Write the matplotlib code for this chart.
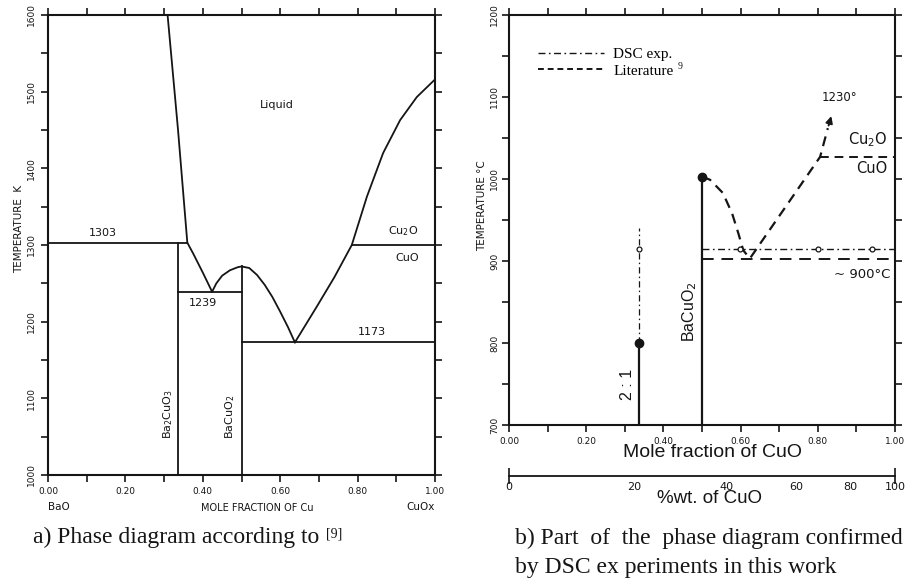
import numpy as np
import matplotlib
matplotlib.use('Agg')
import matplotlib.pyplot as plt
from matplotlib.ticker import MultipleLocator, FixedLocator, FixedFormatter
from matplotlib.lines import Line2D

plt.rcParams['font.family'] = ['DejaVu Sans']
plt.rcParams['mathtext.fontset'] = 'dejavusans'

# ---------------- Panel a data (T in K vs mole fraction of Cu) ----------------
a_xticks = [0.0, 0.2, 0.4, 0.6, 0.8, 1.0]
a_xticklabels = ['0.00', '0.20', '0.40', '0.60', '0.80', '1.00']
a_yticks = [1000, 1100, 1200, 1300, 1400, 1500, 1600]
a_yticklabels = ['1000', '1100', '1200', '1300', '1400', '1500', '1600']

liq_left_x = [0.309, 0.336, 0.360]
liq_left_T = [1600, 1450, 1303]
branch_x = [0.360, 0.375, 0.401, 0.424]
branch_T = [1303, 1289, 1263, 1239]
dome_x = [0.424, 0.435, 0.45, 0.47, 0.49, 0.50, 0.52, 0.54, 0.56, 0.58, 0.60, 0.62, 0.638]
dome_T = [1239, 1250, 1260, 1267, 1271, 1272, 1270, 1261, 1248, 1232, 1213, 1193, 1173]
liq_right_x = [0.638, 0.695, 0.74, 0.785, 0.824, 0.866, 0.91, 0.953, 1.0]
liq_right_T = [1173, 1220, 1258, 1300, 1363, 1420, 1463, 1493, 1516]

iso_1303_x = [0.0, 0.360]
iso_1303_T = [1303, 1303]
iso_1239_x = [0.336, 0.5]
iso_1239_T = [1239, 1239]
iso_1173_x = [0.5, 1.0]
iso_1173_T = [1173, 1173]
iso_cu2o_x = [0.785, 1.0]
iso_cu2o_T = [1300, 1300]
ba2cuo3_x = [0.336, 0.336]
ba2cuo3_T = [1000, 1303]
bacuo2_a_x = [0.5, 0.5]
bacuo2_a_T = [1000, 1272]

# ---------------- Panel b data (T in degC vs mole fraction of CuO) ----------------
b_xticks = [0.0, 0.2, 0.4, 0.6, 0.8, 1.0]
b_xticklabels = ['0.00', '0.20', '0.40', '0.60', '0.80', '1.00']
b_yticks = [700, 800, 900, 1000, 1100, 1200]
b_yticklabels = ['700', '800', '900', '1000', '1100', '1200']
wt_ticks = [0, 20, 40, 60, 80, 100]
wt_ticklabels = ['0', '20', '40', '60', '80', '100']
M_CuO = 79.55
M_BaO = 153.33

lit_x = [0.5, 0.521, 0.554, 0.578, 0.594, 0.607, 0.624, 0.806, 0.826]
lit_T = [1003, 999, 983, 958, 934, 913, 903, 1027, 1062]
arrow_tip_x = 0.837
arrow_tip_T = 1080
lit_cu2o_x = [0.806, 1.0]
lit_cu2o_T = [1027, 1027]
lit_eut_x = [0.5, 1.0]
lit_eut_T = [902, 902]
dsc_x = [0.5, 1.0]
dsc_T = [915, 915]
dsc_pts_x = [0.598, 0.80, 0.94, 0.338]
dsc_pts_T = [915, 915, 915, 915]
r21_solid_x = [0.338, 0.338]
r21_solid_T = [700, 800]
r21_dash_x = [0.338, 0.338]
r21_dash_T = [800, 940]
r21_dot_x = [0.338]
r21_dot_T = [800]
bacuo2_b_x = [0.5, 0.5]
bacuo2_b_T = [700, 1003]
bacuo2_dot_x = [0.5]
bacuo2_dot_T = [1003]

INK = '#151515'

fig = plt.figure(figsize=(9.13, 5.81), dpi=100)
fig.patch.set_facecolor('white')

W, H = 913.0, 581.0
ax1 = fig.add_axes([48 / W, (H - 475) / H, (435 - 48) / W, (475 - 15) / H])
ax2 = fig.add_axes([509 / W, (H - 425) / H, (895 - 509) / W, (425 - 15) / H])


def style_axes(ax):
    for s in ax.spines.values():
        s.set_linewidth(1.5)
        s.set_color(INK)
    ax.tick_params(which='both', direction='out', length=5, width=1.2,
                   top=True, right=True, labeltop=False, labelright=False,
                   colors=INK, labelsize=6.5)


# ---------------- Panel a ----------------
lw = 1.3
ax1.plot(liq_left_x, liq_left_T, color=INK, lw=lw)
ax1.plot(branch_x, branch_T, color=INK, lw=lw)
ax1.plot(dome_x, dome_T, color=INK, lw=lw)
ax1.plot(liq_right_x, liq_right_T, color=INK, lw=lw)
for xs, ts in [(iso_1303_x, iso_1303_T), (iso_1239_x, iso_1239_T),
               (iso_1173_x, iso_1173_T), (iso_cu2o_x, iso_cu2o_T),
               (ba2cuo3_x, ba2cuo3_T), (bacuo2_a_x, bacuo2_a_T)]:
    ax1.plot(xs, ts, color=INK, lw=lw)

ax1.set_xlim(0, 1)
ax1.set_ylim(1000, 1600)
style_axes(ax1)
ax1.xaxis.set_major_locator(FixedLocator(a_xticks))
ax1.xaxis.set_major_formatter(FixedFormatter(a_xticklabels))
ax1.xaxis.set_minor_locator(MultipleLocator(0.1))
ax1.yaxis.set_major_locator(FixedLocator(a_yticks))
ax1.yaxis.set_major_formatter(FixedFormatter(a_yticklabels))
ax1.yaxis.set_minor_locator(MultipleLocator(50))
for lab in ax1.get_yticklabels():
    lab.set_rotation(90)
    lab.set_va('center')

fa = 8
ax1.text(0.142, 1316, '1303', fontsize=fa, ha='center', va='center', color=INK)
ax1.text(0.592, 1483, 'Liquid', fontsize=fa, ha='center', va='center', color=INK)
ax1.text(0.917, 1318, r'Cu$_2$O', fontsize=fa, ha='center', va='center', color=INK)
ax1.text(0.928, 1283, 'CuO', fontsize=fa, ha='center', va='center', color=INK)
ax1.text(0.40, 1224, '1239', fontsize=fa, ha='center', va='center', color=INK)
ax1.text(0.837, 1186, '1173', fontsize=fa, ha='center', va='center', color=INK)
ax1.text(0.31, 1080, r'Ba$_2$CuO$_3$', fontsize=fa, rotation=90, ha='center', va='center', color=INK)
ax1.text(0.47, 1076, r'BaCuO$_2$', fontsize=fa, rotation=90, ha='center', va='center', color=INK)
ax1.text(-0.075, 0.535, 'TEMPERATURE  K', fontsize=7.5, rotation=90, ha='center', va='center',
         transform=ax1.transAxes, color=INK)
ax1.text(0.0, -0.07, 'BaO', fontsize=7.5, ha='left', va='center', transform=ax1.transAxes, color=INK)
ax1.text(0.54, -0.072, 'MOLE FRACTION OF Cu', fontsize=7, ha='center', va='center',
         transform=ax1.transAxes, color=INK)
ax1.text(1.0, -0.07, 'CuOx', fontsize=7.5, ha='right', va='center', transform=ax1.transAxes, color=INK)

# ---------------- Panel b ----------------
dash = (4.5, 3)
dashdot = (5, 2.5, 1.2, 2.5)
ax2.plot(bacuo2_b_x, bacuo2_b_T, color=INK, lw=1.6)
ax2.plot(bacuo2_dot_x, bacuo2_dot_T, 'o', color=INK, ms=6)
ax2.plot(r21_solid_x, r21_solid_T, color=INK, lw=1.6)
ax2.plot(r21_dash_x, r21_dash_T, color=INK, lw=0.9, dashes=dashdot)
ax2.plot(r21_dot_x, r21_dot_T, 'o', color=INK, ms=6)

ax2.plot(lit_x, lit_T, color=INK, lw=1.6, dashes=dash)
ax2.annotate('', xy=(arrow_tip_x, arrow_tip_T), xytext=(lit_x[-1], lit_T[-1]),
             arrowprops=dict(arrowstyle='-|>', color=INK, lw=1.4, mutation_scale=10))
ax2.plot(lit_cu2o_x, lit_cu2o_T, color=INK, lw=1.4, dashes=dash)
ax2.plot(lit_eut_x, lit_eut_T, color=INK, lw=1.4, dashes=(6, 4))
ax2.plot(dsc_x, dsc_T, color=INK, lw=1.0, dashes=dashdot)
ax2.plot(dsc_pts_x, dsc_pts_T, 'o', mfc='white', mec=INK, mew=0.9, ms=3.5, ls='none')

ax2.set_xlim(0, 1)
ax2.set_ylim(700, 1200)
style_axes(ax2)
ax2.xaxis.set_major_locator(FixedLocator(b_xticks))
ax2.xaxis.set_major_formatter(FixedFormatter(b_xticklabels))
ax2.xaxis.set_minor_locator(MultipleLocator(0.1))
ax2.yaxis.set_major_locator(FixedLocator(b_yticks))
ax2.yaxis.set_major_formatter(FixedFormatter(b_yticklabels))
ax2.yaxis.set_minor_locator(MultipleLocator(50))
for lab in ax2.get_yticklabels():
    lab.set_rotation(90)
    lab.set_va('center')
ax2.tick_params(axis='y', pad=2)


def mol2wt(x):
    x = np.asarray(x, dtype=float)
    with np.errstate(divide='ignore', invalid='ignore'):
        return 100.0 * M_CuO * x / (M_CuO * x + M_BaO * (1.0 - x))


def wt2mol(w):
    w = np.asarray(w, dtype=float)
    with np.errstate(divide='ignore', invalid='ignore'):
        a = w / M_CuO
        b = (100.0 - w) / M_BaO
        return a / (a + b)


sec = ax2.secondary_xaxis(-0.125, functions=(mol2wt, wt2mol))
sec.spines['bottom'].set_linewidth(1.3)
sec.spines['bottom'].set_color(INK)
sec.xaxis.remove_overlapping_locs = False
sec.xaxis.set_major_locator(FixedLocator(wt_ticks))
sec.xaxis.set_major_formatter(FixedFormatter(wt_ticklabels))
sec.xaxis.set_minor_locator(FixedLocator([0, 100]))
sec.tick_params(which='major', length=0, pad=4, labelsize=8, colors=INK)
sec.tick_params(which='minor', direction='inout', length=12, width=1.2, colors=INK)

ax2.text(0.528, -0.068, 'Mole fraction of CuO', fontsize=14, ha='center', va='center',
         transform=ax2.transAxes, family='Liberation Sans', color=INK)
ax2.text(0.52, -0.18, '%wt. of CuO', fontsize=13.5, ha='center', va='center',
         transform=ax2.transAxes, family='Liberation Sans', color=INK)
ax2.text(-0.07, 0.534, 'TEMPERATURE \u00b0C', fontsize=7.5, rotation=90, ha='center', va='center',
         transform=ax2.transAxes, color=INK)
ax2.text(0.857, 1099, '1230\u00b0', fontsize=8.5, ha='center', va='center', color=INK)
ax2.text(0.93, 1048, r'Cu$_2$O', fontsize=10.5, ha='center', va='center', color=INK)
ax2.text(0.94, 1013, 'CuO', fontsize=10.5, ha='center', va='center', color=INK)
ax2.text(0.915, 883, '~ 900\u00b0C', fontsize=9.5, ha='center', va='center', color=INK)
ax2.text(0.469, 838, r'BaCuO$_2$', fontsize=11.5, rotation=90, ha='center', va='center',
         family='Liberation Sans', color=INK)
ax2.text(0.306, 749, '2 : 1', fontsize=11.5, rotation=90, ha='center', va='center',
         family='Liberation Sans', color=INK)

handles = [Line2D([], [], color=INK, lw=1.0, dashes=dashdot),
           Line2D([], [], color=INK, lw=1.4, dashes=(3, 2))]
leg = ax2.legend(handles, ['DSC exp.', 'Literature'], loc='upper left',
                 bbox_to_anchor=(0.04, 0.955), frameon=False, handlelength=4.3,
                 handletextpad=0.6, labelspacing=0.2,
                 prop={'family': 'Liberation Serif', 'size': 11})
fig.canvas.draw()
lit_txt = leg.get_texts()[1]
bb = lit_txt.get_window_extent(fig.canvas.get_renderer())
fig.text((bb.x1 + 4) / W, (bb.y1 - 6) / H, '9', fontsize=7, family='Liberation Serif',
         ha='left', va='bottom', color=INK)

# ---------------- Captions ----------------
cap_a = fig.text(33 / W, (H - 537) / H, 'a) Phase diagram according to', fontsize=17,
                 family='Liberation Serif', ha='left', va='center', color=INK)
fig.canvas.draw()
bb = cap_a.get_window_extent(fig.canvas.get_renderer())
fig.text((bb.x1 + 7) / W, (bb.y1 - 1) / H, '[9]', fontsize=10,
         family='Liberation Serif', ha='left', va='top', color=INK)
fig.text(515 / W, (H - 538) / H, 'b) Part  of  the  phase diagram confirmed', fontsize=17,
         family='Liberation Serif', ha='left', va='center', color=INK)
fig.text(515 / W, (H - 567) / H, 'by DSC ex periments in this work', fontsize=17,
         family='Liberation Serif', ha='left', va='center', color=INK)

fig.savefig('out.png', dpi=100, facecolor='white')
